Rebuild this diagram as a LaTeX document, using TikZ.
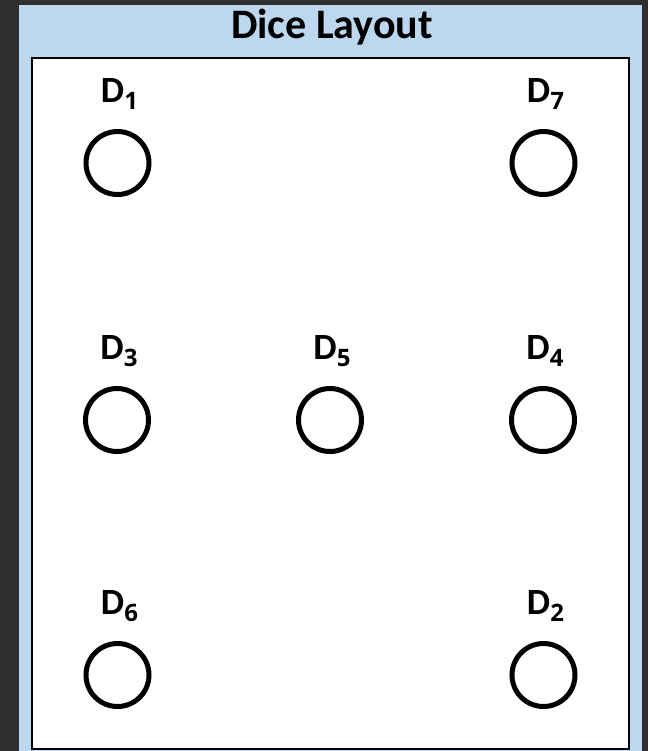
\documentclass[tikz,border=0pt]{standalone}
\usepackage{fontspec}
\setmainfont{Carlito}
\newfontfamily\subfont{Open Sans}
\usetikzlibrary{calc}
\definecolor{darkbg}{HTML}{2F2F2F}
\definecolor{panelblue}{HTML}{BDD7EE}
\newcommand{\dsub}[1]{D\raisebox{-0.2em}{\subfont\bfseries\fontsize{18}{20}\selectfont #1}}
\tikzset{
  dieslot/.style={circle, draw=black, line width=3.75pt, fill=white, minimum size=47.25pt, inner sep=0pt},
  dlabel/.style={font=\fontsize{27.75}{30}\selectfont\bfseries, inner sep=0pt, anchor=base}
}
\begin{document}
\begin{tikzpicture}[x=0.75pt, y=-0.75pt]
	\useasboundingbox (0,0) rectangle (648,751);
	% Hintergrund und Rahmen
	\fill[darkbg] (0,0) rectangle (648,751);
	\fill[panelblue] (19,5) rectangle (642,751);
	\draw[black, line width=1.1pt, fill=white] (32,58) rectangle (629,749);
	\node[font=\fontsize{31.5}{34}\selectfont\bfseries, inner sep=0pt, anchor=base] (title) at (332,38.5) {Dice Layout};
	
	% Wuerfelpositionen
	\foreach \n/\x/\y in {1/117.5/163, 7/543.5/163, 3/117/420, 5/330/420, 4/543/420, 6/117.5/675, 2/543.5/675}{
		\node[dieslot] (d\n) at (\x,\y) {};
		\node[dlabel] (l\n) at ($(d\n)+(2,-61)$) {\dsub{\n}};
	}
\end{tikzpicture}
\end{document}
